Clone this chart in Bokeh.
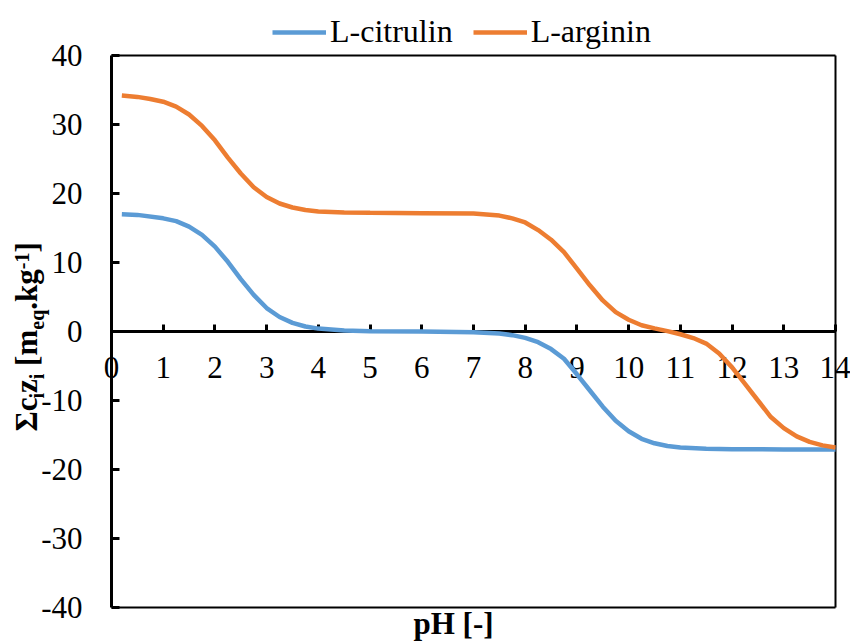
import numpy as np
from bokeh.plotting import figure
from bokeh.models import (ColumnDataSource, FixedTicker, Legend, LegendItem,
                          Label, Range1d, LinearAxis)
from bokeh.embed import file_html
from bokeh.resources import INLINE

# ---------------- data ----------------
series_names = ["L-citrulin", "L-arginin"]
series_colors = ["#5B9BD5", "#ED7D31"]

ph_citrulin = [0.2, 0.5, 1.0, 1.25, 1.5, 1.75, 2.0, 2.25, 2.5, 2.75, 3.0,
               3.25, 3.5, 3.75, 4.0, 4.5, 5.0, 6.0, 7.0, 7.5, 7.75, 8.0,
               8.25, 8.5, 8.75, 9.0, 9.25, 9.5, 9.75, 10.0, 10.25, 10.5,
               10.75, 11.0, 11.5, 12.0, 13.0, 14.0]
val_citrulin = [17.0, 16.9, 16.4, 16.0, 15.2, 14.0, 12.3, 10.1, 7.6, 5.3, 3.4,
                2.1, 1.25, 0.73, 0.42, 0.13, 0.05, 0.0, -0.1, -0.3, -0.53, -0.93,
                -1.55, -2.55, -3.95, -6.2, -8.55, -10.9, -12.95, -14.45, -15.55, -16.2,
                -16.6, -16.8, -17.0, -17.05, -17.1, -17.1]

ph_arginin = [0.2, 0.5, 0.75, 1.0, 1.25, 1.5, 1.75, 2.0, 2.25, 2.5, 2.75,
              3.0, 3.25, 3.5, 3.75, 4.0, 4.5, 5.0, 6.0, 7.0, 7.5, 7.75,
              8.0, 8.25, 8.5, 8.75, 9.0, 9.25, 9.5, 9.75, 10.0, 10.25,
              10.5, 10.75, 11.0, 11.25, 11.5, 11.75, 12.0, 12.25, 12.5,
              12.75, 13.0, 13.25, 13.5, 13.75, 14.0]
val_arginin = [34.2, 34.0, 33.7, 33.3, 32.6, 31.45, 29.8, 27.7, 25.2, 22.9, 20.9,
               19.5, 18.55, 17.97, 17.6, 17.4, 17.25, 17.2, 17.15, 17.1, 16.8, 16.4,
               15.8, 14.7, 13.3, 11.5, 9.1, 6.7, 4.5, 2.8, 1.7, 0.9,
               0.45, 0.05, -0.4, -0.95, -1.75, -3.2, -5.2, -7.6, -10.0,
               -12.4, -14.0, -15.2, -16.0, -16.5, -16.8]

x_ticks = list(range(0, 15))
y_ticks = list(range(-40, 41, 10))
x_title = "pH [-]"
y_title_pieces = [("Σc", "main"), ("i", "sub"), ("z", "main"), ("i", "sub"),
                  (" [m", "main"), ("eq", "sub"), (".kg", "main"),
                  ("-1", "sup"), ("]", "main")]

FONT = "Liberation Serif"
MAIN = 31
LEG = 32
SMALL = 20

W, H = 850, 644
# plot-area geometry in canvas pixels (frame of the data region)
LEFT_PX, RIGHT_PX, TOP_PX, BOTTOM_PX = 111.0, 835.0, 55.0, 607.0
xmin, xmax = x_ticks[0], x_ticks[-1]
ymin, ymax = y_ticks[0], y_ticks[-1]
PX_PER_X = (RIGHT_PX - LEFT_PX) / (xmax - xmin)
PX_PER_Y = (BOTTOM_PX - TOP_PX) / (ymax - ymin)


def dx(px):
    return xmin + (px - LEFT_PX) / PX_PER_X


def dy(py):
    return ymin + (BOTTOM_PX - py) / PX_PER_Y


# the frame covers the whole canvas, so that texts outside the data
# region are not clipped; axes are placed with fixed_location
p = figure(width=W, height=H, output_backend="svg", toolbar_location=None,
           x_range=Range1d(dx(0), dx(W)), y_range=Range1d(dy(H), dy(0)),
           min_border_left=0, min_border_right=0,
           min_border_top=0, min_border_bottom=0,
           background_fill_color="white", border_fill_color="white")
p.xgrid.visible = False
p.ygrid.visible = False
p.outline_line_color = None

# x axis crossing at y = 0
xa = p.xaxis[0]
xa.fixed_location = 0
xa.bounds = (xmin, xmax)
xa.ticker = FixedTicker(ticks=x_ticks)
xa.major_label_overrides = {t: str(t) for t in x_ticks}
xa.major_tick_in = 7
xa.major_tick_out = 0
xa.minor_tick_line_color = None
xa.axis_line_width = 3
xa.major_tick_line_width = 3
xa.axis_line_color = "black"
xa.major_tick_line_color = "black"
xa.major_label_text_font = FONT
xa.major_label_text_font_size = f"{MAIN}px"
xa.major_label_text_color = "black"
xa.major_label_standoff = 25

ya = p.yaxis[0]
ya.fixed_location = xmin
ya.bounds = (ymin, ymax)
ya.ticker = FixedTicker(ticks=y_ticks)
ya.major_label_overrides = {t: str(t) for t in y_ticks}
ya.major_tick_in = 8
ya.major_tick_out = 0
ya.minor_tick_line_color = None
ya.axis_line_width = 3
ya.major_tick_line_width = 3
ya.axis_line_color = "black"
ya.major_tick_line_color = "black"
ya.major_label_text_font = FONT
ya.major_label_text_font_size = f"{MAIN}px"
ya.major_label_text_color = "black"
ya.major_label_standoff = 29


def box_axis(loc, bounds, side):
    ax = LinearAxis(fixed_location=loc, bounds=bounds,
                    ticker=FixedTicker(ticks=[]),
                    axis_line_width=2, axis_line_color="black",
                    major_tick_line_color=None, minor_tick_line_color=None,
                    major_label_text_font_size="0px")
    p.add_layout(ax, side)


box_axis(ymax, (xmin, xmax), "above")
box_axis(ymin, (xmin, xmax), "below")
box_axis(xmax, (ymin, ymax), "right")

# ---------------- lines ----------------
src_c = ColumnDataSource(dict(x=ph_citrulin, y=val_citrulin))
src_a = ColumnDataSource(dict(x=ph_arginin, y=val_arginin))
r_c = p.line("x", "y", source=src_c, line_color=series_colors[0],
             line_width=4.5, level="overlay")
r_a = p.line("x", "y", source=src_a, line_color=series_colors[1],
             line_width=4.5, level="overlay")

legend = Legend(items=[LegendItem(label=series_names[0], renderers=[r_c]),
                       LegendItem(label=series_names[1], renderers=[r_a])],
                orientation="horizontal", location=(272, H - 50),
                glyph_width=54, glyph_height=30, label_standoff=4,
                spacing=20, padding=0, margin=0,
                border_line_alpha=0, background_fill_alpha=0,
                label_text_font=FONT, label_text_font_size=f"{LEG}px",
                label_text_color="black", label_height=30)
p.add_layout(legend, "center")

# Bokeh draws an "alphabetic" label about 1/3 em lower than its anchor;
# compensate so that the baselines land where the reference has them
def base_fix(size):
    return size * 10.0 / 31.0


# x title (baseline at y = 633 px)
p.add_layout(Label(x=dx(453), y=dy(633 - base_fix(MAIN)),
                   x_units="data", y_units="data",
                   text=x_title, text_font=FONT, text_font_size=f"{MAIN}px",
                   text_font_style="bold", text_align="center",
                   text_baseline="alphabetic", text_color="black"))

# y title pieces (rotated, with sub-/superscripts)
em = {"Σ": 0.62, "c": 0.444, "i": 0.278, "z": 0.444, " ": 0.25, "[": 0.333,
      "m": 0.833, "e": 0.444, "q": 0.556, ".": 0.25, "k": 0.556, "g": 0.5,
      "-": 0.333, "1": 0.5, "]": 0.333}
base_x = 36.0
shift = {"main": 0.0, "sub": 7.0, "sup": -8.0}
cur_y = 431.0
for txt, role in y_title_pieces:
    size = MAIN if role == "main" else SMALL
    lead = len(txt) - len(txt.lstrip(" "))
    cur_y -= lead * em[" "] * size
    body = txt.lstrip(" ")
    p.add_layout(Label(x=dx(base_x + shift[role] - base_fix(size)), y=dy(cur_y),
                       x_units="data", y_units="data", text=body,
                       text_font=FONT, text_font_size=f"{size}px",
                       text_font_style="bold", angle=np.pi / 2,
                       text_align="left", text_baseline="alphabetic",
                       text_color="black"))
    cur_y -= sum(em[ch] for ch in body) * size

open("out.html", "w").write(file_html(p, INLINE))
